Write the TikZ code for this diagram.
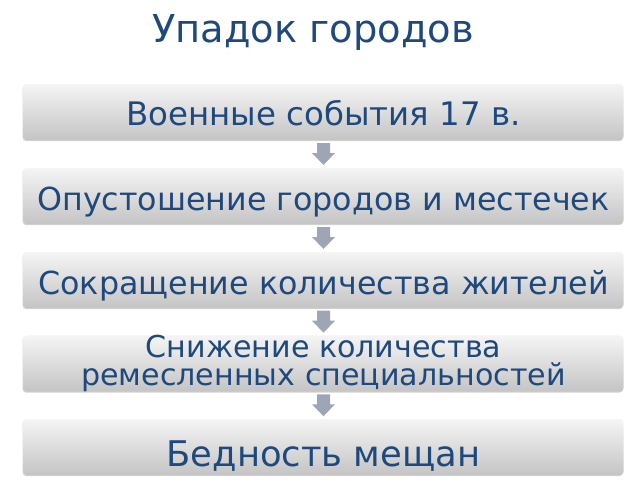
\documentclass[tikz,border=0pt]{standalone}
\usepackage{fontspec}
\setmainfont{DejaVu Sans}
\usetikzlibrary{shadows,calc}
\definecolor{txt}{RGB}{31,73,125}
\definecolor{arr}{RGB}{158,166,182}
\begin{document}
\begin{tikzpicture}[x=0.75pt,y=-0.75pt,
 stepbox/.style={rectangle, rounded corners=2.5pt, minimum width=450pt, minimum height=42pt,
   top color=gray!8, bottom color=gray!46, text=txt, inner sep=0pt, align=center,
   drop shadow={shadow xshift=-0.6pt, shadow yshift=-0.8pt, opacity=0.35, fill=gray}},
 arrowfill/.style={fill=arr}]
\useasboundingbox (0,0) rectangle (640,480);
\node[text=txt, font=\fontsize{28.8}{34}\selectfont, anchor=base] (title) at (313,42) {Упадок городов};
\node[stepbox, font=\fontsize{24.3}{29}\selectfont, text height=19.5pt, text depth=0pt] (b1) at (323.5,112) {Военные события 17 в.};
\node[stepbox, font=\fontsize{23.8}{29}\selectfont, text height=21pt, text depth=0pt] (b2) at (323.5,196) {Опустошение городов и местечек};
\node[stepbox, font=\fontsize{22.6}{20.6}\selectfont] (b4) at (323.5,363.5) {Снижение количества\\ремесленных специальностей};
\node[stepbox, font=\fontsize{23.8}{29}\selectfont, text height=21pt, text depth=0pt] (b3) at (323.5,280) {Сокращение количества жителей};
\node[stepbox, font=\fontsize{26.5}{31}\selectfont, text height=28.8pt, text depth=0pt] (b5) at (323.5,447) {Бедность мещан};
\foreach \a/\b in {b1/b2,b2/b3,b3/b4,b4/b5}{
  \coordinate (m\a) at ($(\a.south)!0.5!(\b.north)$);
  \fill[arrowfill] (m\a) ++(-6.5,-11) -- ++(13,0) -- ++(0,10) -- ++(5,0) -- ++(-11.5,12)
     -- ++(-11.5,-12) -- ++(5,0) -- cycle;
}
\end{tikzpicture}
\end{document}
